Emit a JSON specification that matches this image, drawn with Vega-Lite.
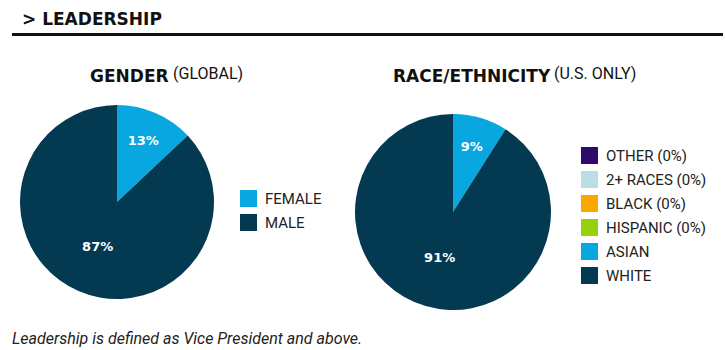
{
  "$schema": "https://vega.github.io/schema/vega-lite/v6.json",
  "background": "white",
  "padding": {"left": 12, "top": 10, "right": 0, "bottom": 0},
  "config": {
    "font": "Roboto",
    "view": {"stroke": null},
    "title": {"color": "#111", "font": "Roboto", "baseline": "alphabetic"},
    "legend": {"labelFont": "Roboto"}
  },
  "title": {
    "text": "Leadership is defined as Vice President and above.",
    "orient": "bottom",
    "anchor": "start",
    "frame": "group",
    "fontSize": 16,
    "fontStyle": "italic",
    "fontWeight": "normal",
    "color": "#222",
    "offset": 12
  },
  "spacing": 28,
  "vconcat": [
    {
      "data": {"values": [{"k": 0}]},
      "mark": {"type": "point", "opacity": 0},
      "encoding": {},
      "width": 711,
      "height": 3,
      "view": {"fill": "#111", "stroke": null},
      "title": {
        "text": "> LEADERSHIP",
        "anchor": "start",
        "frame": "group",
        "font": "DejaVu Sans",
        "fontSize": 17,
        "fontWeight": "bold",
        "offset": 3,
        "dx": 10
      }
    },
    {
      "spacing": 33,
      "resolve": {
        "scale": {"color": "independent", "theta": "independent", "radius": "independent"},
        "legend": {"color": "independent"}
      },
      "hconcat": [
        {
          "title": {
            "text": "(GLOBAL)",
            "anchor": "start",
            "frame": "group",
            "fontSize": 16,
            "fontWeight": "normal",
            "dx": 161,
            "offset": -14
          },
          "hconcat": [
            {
              "width": 210,
              "height": 194,
              "title": {
                "text": "GENDER",
                "anchor": "start",
                "frame": "group",
                "font": "DejaVu Sans",
                "dx": 78,
                "offset": 19,
                "fontSize": 17,
                "fontWeight": "bold"
              },
              "data": {
                "values": [
                  {"group": "FEMALE", "share": 0.13},
                  {"group": "MALE", "share": 0.87}
                ]
              },
              "encoding": {
                "theta": {"field": "share", "type": "quantitative", "stack": true},
                "order": {"field": "share", "type": "quantitative", "sort": "ascending"}
              },
              "layer": [
                {
                  "mark": {"type": "arc"},
                  "encoding": {
                    "color": {
                      "field": "group",
                      "type": "nominal",
                      "scale": {"domain": ["FEMALE", "MALE"], "range": ["#09a7e0", "#033a52"]},
                      "legend": {
                        "title": null,
                        "orient": "none",
                        "legendX": 228,
                        "legendY": 85,
                        "symbolType": "square",
                        "symbolSize": 289,
                        "symbolStrokeWidth": 0,
                        "symbolOpacity": 1,
                        "labelFontSize": 15,
                        "labelColor": "#222",
                        "rowPadding": 7,
                        "labelOffset": 8
                      }
                    }
                  }
                },
                {
                  "transform": [{"filter": "datum.share > 0"}],
                  "mark": {"type": "text", "font": "DejaVu Sans", "fontSize": 13, "fontWeight": "bold"},
                  "encoding": {
                    "detail": {"field": "group", "type": "nominal"},
                    "color": {"value": "white"},
                    "text": {"field": "share", "type": "quantitative", "format": ".0%"},
                    "radius": {
                      "field": "share",
                      "type": "quantitative",
                      "scale": {"type": "linear", "domain": [0.1, 0.9], "range": [67, 48], "zero": false}
                    }
                  }
                }
              ]
            }
          ]
        },
        {
          "title": {
            "text": "(U.S. ONLY)",
            "anchor": "start",
            "frame": "group",
            "fontSize": 16,
            "fontWeight": "normal",
            "dx": 199,
            "offset": -14
          },
          "hconcat": [
            {
              "width": 196,
              "height": 214,
              "title": {
                "text": "RACE/ETHNICITY",
                "anchor": "start",
                "frame": "group",
                "font": "DejaVu Sans",
                "dx": 38,
                "offset": 19,
                "fontSize": 17,
                "fontWeight": "bold"
              },
              "data": {
                "values": [
                  {"group": "OTHER (0%)", "share": 0},
                  {"group": "2+ RACES (0%)", "share": 0},
                  {"group": "BLACK (0%)", "share": 0},
                  {"group": "HISPANIC (0%)", "share": 0},
                  {"group": "ASIAN", "share": 0.09},
                  {"group": "WHITE", "share": 0.91}
                ]
              },
              "encoding": {
                "theta": {"field": "share", "type": "quantitative", "stack": true},
                "order": {"field": "share", "type": "quantitative", "sort": "ascending"}
              },
              "layer": [
                {
                  "mark": {"type": "arc"},
                  "encoding": {
                    "color": {
                      "field": "group",
                      "type": "nominal",
                      "scale": {
                        "domain": ["OTHER (0%)", "2+ RACES (0%)", "BLACK (0%)", "HISPANIC (0%)", "ASIAN", "WHITE"],
                        "range": ["#2e0a6c", "#bddde6", "#f9a800", "#96d20b", "#09a7e0", "#033a52"]
                      },
                      "legend": {
                        "title": null,
                        "orient": "none",
                        "legendX": 226,
                        "legendY": 42,
                        "symbolType": "square",
                        "symbolSize": 289,
                        "symbolStrokeWidth": 0,
                        "symbolOpacity": 1,
                        "labelFontSize": 15,
                        "labelColor": "#222",
                        "rowPadding": 7,
                        "labelOffset": 8
                      }
                    }
                  }
                },
                {
                  "transform": [{"filter": "datum.share > 0"}],
                  "mark": {"type": "text", "font": "DejaVu Sans", "fontSize": 13, "fontWeight": "bold"},
                  "encoding": {
                    "detail": {"field": "group", "type": "nominal"},
                    "color": {"value": "white"},
                    "text": {"field": "share", "type": "quantitative", "format": ".0%"},
                    "radius": {
                      "field": "share",
                      "type": "quantitative",
                      "scale": {"type": "linear", "domain": [0.1, 0.9], "range": [67, 48], "zero": false}
                    }
                  }
                }
              ]
            }
          ]
        }
      ]
    }
  ]
}
